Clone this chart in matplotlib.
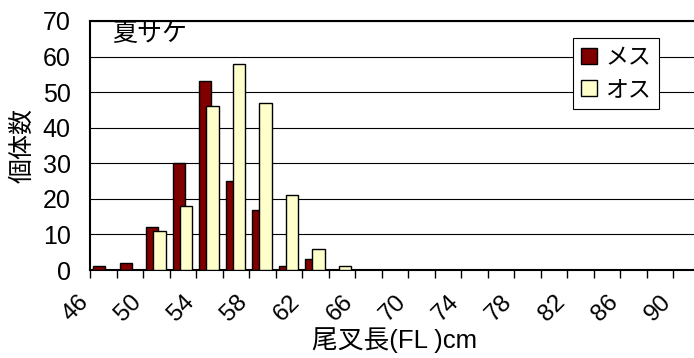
import matplotlib
matplotlib.use("Agg")
import matplotlib.pyplot as plt
from matplotlib.patches import Patch
import numpy as np

plt.rcParams['font.family'] = ['Liberation Sans', 'Noto Sans CJK JP', 'DejaVu Sans']

# fork length classes (cm) and counts per class
lengths = list(range(46, 92, 2))
female = [1, 2, 12, 30, 53, 25, 17, 1, 3, 0, 0, 0, 0, 0, 0, 0, 0, 0, 0, 0, 0, 0, 0]
male = [0, 0, 11, 18, 46, 58, 47, 21, 6, 1, 0, 0, 0, 0, 0, 0, 0, 0, 0, 0, 0, 0, 0]
tick_labels = [str(v) for v in lengths[::2]]
series_names = ["メス", "オス"]
title = "夏サケ"

W, H = 694, 358
fig = plt.figure(figsize=(W / 100, H / 100), dpi=100)
ax = fig.add_axes([90 / W, 1 - 270 / H, 609.5 / W, 249 / H])

idx = np.arange(len(lengths))
bw = 0.46
ax.bar(idx + 0.35, female, width=bw, color="#800000", edgecolor="black", linewidth=1.0, zorder=3)
ax.bar(idx + 0.62, male, width=bw, color="#FFFFCC", edgecolor="black", linewidth=1.0, zorder=4)

ax.set_xlim(0, len(lengths))
ax.set_ylim(0, 70)
ax.set_yticks(np.arange(0, 80, 10))
ax.yaxis.grid(True, color="black", linewidth=0.8, zorder=0)
ax.tick_params(axis="y", length=0, pad=14, labelsize=18)

# tick marks at every class boundary, labels every other one
ax.set_xticks(idx, minor=True)
ax.set_xticks(idx[::2] + 0.1)
ax.set_xticklabels(tick_labels, rotation=45, ha="right", va="top")
ax.tick_params(axis="x", which="minor", length=6, width=1, direction="out")
ax.tick_params(axis="x", which="major", length=0, pad=15, labelsize=17.5)

for s in ["left", "bottom", "top"]:
    ax.spines[s].set_linewidth(1.5)
ax.spines["right"].set_visible(False)

ax.set_ylabel("個体数", fontsize=18, labelpad=6)
ax.set_xlabel("尾叉長(FL )cm", fontsize=18.5, labelpad=1)

ax.text(0.036, 0.997, title, transform=ax.transAxes, fontsize=18, va="top", ha="left")

handles = [Patch(facecolor="#800000", edgecolor="black"), Patch(facecolor="#FFFFCC", edgecolor="black")]
leg = fig.legend(handles, series_names, loc="upper left", bbox_to_anchor=(573 / W, 1 - 38 / H),
                 fontsize=16.5, frameon=True, fancybox=False, framealpha=1, edgecolor="black",
                 handlelength=0.7, handleheight=0.7, handletextpad=0.35, labelspacing=0.4,
                 borderpad=0.35, borderaxespad=0)
leg.get_frame().set_linewidth(0.8)

fig.savefig("out.png", dpi=100)
